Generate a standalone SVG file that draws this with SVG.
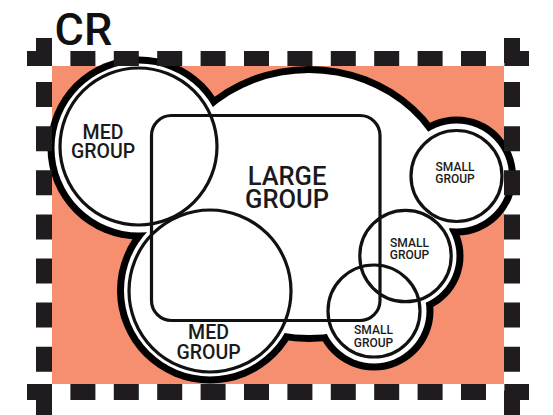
<svg xmlns="http://www.w3.org/2000/svg" width="553" height="415" viewBox="0 0 553 415">
  <style>
    .ink { fill: none; stroke: #111; stroke-width: 3.2; }
    .dash { fill: none; stroke: #1f1b1e; }
    .out { fill: #000; }
    .in { fill: #fff; }
    .lbl { font-family: Roboto, "Liberation Sans", sans-serif; font-weight: 500; fill: #1a1a1a; text-anchor: middle; }
    .med { font-size: 19.5px; }
    .lg { font-size: 25.5px; }
    .sm { font-size: 12px; }
  </style>
  <rect x="0" y="0" width="553" height="415" fill="#fff"/>
  <rect id="backdrop" x="52" y="66" width="452" height="318" fill="#f58f70"/>

  <g id="cloud">
    <g class="out">
      <ellipse cx="309" cy="204" rx="150" ry="138"/>
      <circle cx="139" cy="148" r="91.5"/>
      <circle cx="210" cy="290.5" r="93"/>
      <circle cx="456.5" cy="176" r="59.5"/>
      <circle cx="405.5" cy="256" r="58"/>
      <circle cx="374" cy="311" r="59.5"/>
    </g>
    <g class="in">
      <ellipse cx="309" cy="204" rx="143" ry="131"/>
      <circle cx="139" cy="148" r="84.5"/>
      <circle cx="210" cy="290.5" r="86"/>
      <circle cx="456.5" cy="176" r="52.5"/>
      <circle cx="405.5" cy="256" r="51"/>
      <circle cx="374" cy="311" r="52.5"/>
    </g>
  </g>

  <g id="large-group">
    <rect class="ink" x="151.5" y="115.5" width="228.5" height="205" rx="20"/>
    <text class="lbl lg"><tspan x="287" y="185">LARGE</tspan><tspan x="287" y="208.3">GROUP</tspan></text>
  </g>

  <g id="med-group-top">
    <circle class="ink" cx="138.5" cy="146.5" r="78.5"/>
    <text class="lbl med"><tspan x="103" y="139">MED</tspan><tspan x="103" y="158.3">GROUP</tspan></text>
  </g>

  <g id="med-group-bottom">
    <circle class="ink" cx="210" cy="291" r="81"/>
    <text class="lbl med"><tspan x="208.5" y="339.3">MED</tspan><tspan x="208.5" y="359.3">GROUP</tspan></text>
  </g>

  <g id="small-group-top">
    <circle class="ink" cx="456.5" cy="176" r="45.5"/>
    <text class="lbl sm"><tspan x="455" y="170.7">SMALL</tspan><tspan x="455" y="182.7">GROUP</tspan></text>
  </g>

  <g id="small-group-middle">
    <circle class="ink" cx="405.5" cy="256" r="45.7"/>
    <text class="lbl sm"><tspan x="409.5" y="246.7">SMALL</tspan><tspan x="409.5" y="259.3">GROUP</tspan></text>
  </g>

  <g id="small-group-bottom">
    <circle class="ink" cx="374" cy="311" r="46"/>
    <text class="lbl sm"><tspan x="373.5" y="334">SMALL</tspan><tspan x="373.5" y="346.7">GROUP</tspan></text>
  </g>

  <g id="connectors"/>

  <g id="frame">
    <line class="dash" x1="27" y1="58.5" x2="529" y2="58.5" stroke-width="15" stroke-dasharray="25 18.4"/>
    <line class="dash" x1="27" y1="392" x2="529" y2="392" stroke-width="16" stroke-dasharray="25 18.4"/>
    <line class="dash" x1="44" y1="38" x2="44" y2="415" stroke-width="16" stroke-dasharray="25 19.1"/>
    <line class="dash" x1="512" y1="38" x2="512" y2="415" stroke-width="16" stroke-dasharray="25 19.1"/>
    <text x="54.5" y="45" font-family="Roboto, 'Liberation Sans', sans-serif" font-weight="500" font-size="45" fill="#111">CR</text>
  </g>
</svg>
